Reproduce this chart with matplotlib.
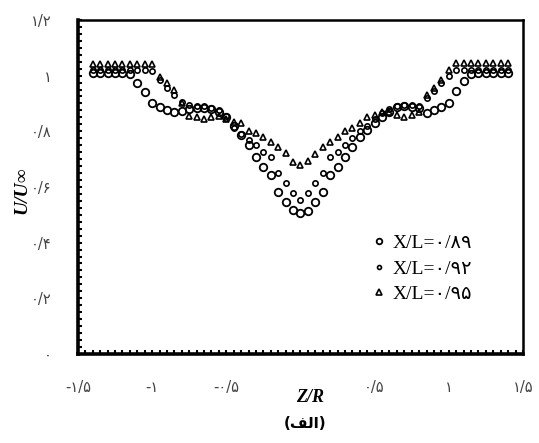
#!/usr/bin/env python
# coding=utf-8

import matplotlib
matplotlib.use('Agg')
import matplotlib.pyplot as plt
from matplotlib.ticker import MultipleLocator
from matplotlib.font_manager import FontProperties

# Z/R stations (same for all three profiles)
zr = [-1.40, -1.35, -1.30, -1.25, -1.20, -1.15, -1.10, -1.05, -1.00, -0.95,
      -0.90, -0.85, -0.80, -0.75, -0.70, -0.65, -0.60, -0.55, -0.50, -0.45,
      -0.40, -0.35, -0.30, -0.25, -0.20, -0.15, -0.10, -0.05, 0.00, 0.05,
      0.10, 0.15, 0.20, 0.25, 0.30, 0.35, 0.40, 0.45, 0.50, 0.55,
      0.60, 0.65, 0.70, 0.75, 0.80, 0.85, 0.90, 0.95, 1.00, 1.05,
      1.10, 1.15, 1.20, 1.25, 1.30, 1.35, 1.40]

# X/L = 0.89
u_89 = [1.01, 1.01, 1.01, 1.01, 1.01, 1.005, 0.975, 0.94, 0.90, 0.888,
        0.877, 0.868, 0.872, 0.88, 0.885, 0.885, 0.88, 0.87, 0.85, 0.82,
        0.785, 0.75, 0.709, 0.673, 0.644, 0.583, 0.547, 0.518, 0.507, 0.514,
        0.547, 0.583, 0.644, 0.673, 0.709, 0.745, 0.78, 0.805, 0.83, 0.85,
        0.87, 0.888, 0.89, 0.888, 0.885, 0.867, 0.877, 0.888, 0.90, 0.945,
        0.98, 1.005, 1.01, 1.01, 1.01, 1.01, 1.01]

# X/L = 0.92
u_92 = [1.02, 1.02, 1.02, 1.02, 1.02, 1.02, 1.02, 1.02, 1.015, 0.985,
        0.957, 0.93, 0.905, 0.895, 0.89, 0.89, 0.885, 0.875, 0.855, 0.81,
        0.79, 0.77, 0.752, 0.727, 0.709, 0.651, 0.615, 0.579, 0.554, 0.579,
        0.615, 0.651, 0.709, 0.727, 0.752, 0.775, 0.80, 0.82, 0.845, 0.865,
        0.88, 0.89, 0.895, 0.895, 0.89, 0.92, 0.945, 0.975, 1.0, 1.02,
        1.02, 1.02, 1.02, 1.02, 1.02, 1.02, 1.02]

# X/L = 0.95
u_95 = [1.043, 1.043, 1.043, 1.043, 1.043, 1.043, 1.043, 1.043, 1.04, 0.995,
        0.973, 0.95, 0.90, 0.855, 0.85, 0.845, 0.85, 0.855, 0.845, 0.834,
        0.83, 0.80, 0.795, 0.78, 0.76, 0.744, 0.723, 0.69, 0.68, 0.694,
        0.72, 0.745, 0.762, 0.78, 0.80, 0.81, 0.83, 0.85, 0.86, 0.87,
        0.87, 0.86, 0.85, 0.86, 0.87, 0.93, 0.955, 0.985, 1.02, 1.045,
        1.045, 1.045, 1.045, 1.045, 1.045, 1.045, 1.045]

labels = ['X/L=۰/۸۹', 'X/L=۰/۹۲', 'X/L=۰/۹۵']

xticks = [-1.5, -1.0, -0.5, 0.0, 0.5, 1.0, 1.5]
xtick_labels = ['-۱/۵', '-۱', '-۰/۵', '', '۰/۵', '۱', '۱/۵']
yticks = [0.0, 0.2, 0.4, 0.6, 0.8, 1.0, 1.2]
ytick_labels = ['۰', '۰/۲', '۰/۴', '۰/۶', '۰/۸', '۱', '۱/۲']

fig = plt.figure(figsize=(5.39, 4.43), dpi=100)
ax = fig.add_axes([0.1447, 0.201, 0.8256, 0.754])

ax.plot(zr, u_89, 'o', mfc='none', mec='black', ms=5.4, mew=1.3, label=labels[0])
ax.plot(zr, u_92, 'o', mfc='none', mec='black', ms=3.8, mew=1.2, label=labels[1])
ax.plot(zr, u_95, '^', mfc='none', mec='black', ms=5.0, mew=1.2, label=labels[2])

ax.set_xlim(-1.5, 1.5)
ax.set_ylim(0, 1.2)
ax.set_xticks(xticks)
ax.set_xticklabels(xtick_labels)
ax.set_yticks(yticks)
ax.set_yticklabels(ytick_labels)
ax.xaxis.set_minor_locator(MultipleLocator(0.05))
ax.yaxis.set_minor_locator(MultipleLocator(0.025))
ax.tick_params(which='both', direction='in', top=False, right=False,
               length=3, width=1.5, labelsize=10.5, labelcolor='#444444')
ax.tick_params(axis='x', pad=19)
ax.tick_params(axis='y', pad=19)

for side in ['left', 'bottom']:
	ax.spines[side].set_linewidth(2.6)
for side in ['top', 'right']:
	ax.spines[side].set_linewidth(1.8)

legfont = FontProperties(family=['Liberation Serif', 'DejaVu Sans'], size=14)
ax.legend(loc='upper left', bbox_to_anchor=(0.625, 0.41), frameon=False,
          prop=legfont, handlelength=0.6, handletextpad=0.35, labelspacing=0.4,
          markerscale=0.75)

fig.text(22/539, 1 - 190/443, 'U/U∞', rotation=90, ha='center', va='center',
         family='Liberation Serif', style='italic', weight='bold', size=14)
fig.text(310/539, 1 - 397/443, 'Z/R', ha='center', va='center',
         family='Liberation Serif', style='italic', weight='bold', size=13)
# caption "(الف)" written in visual order with presentation forms
fig.text(305/539, 1 - 423/443, '(\ufed2\ufedf\ufe8d)', ha='center', va='center',
         family='DejaVu Sans', weight='bold', size=11)

plt.savefig('out.png', dpi=100)
